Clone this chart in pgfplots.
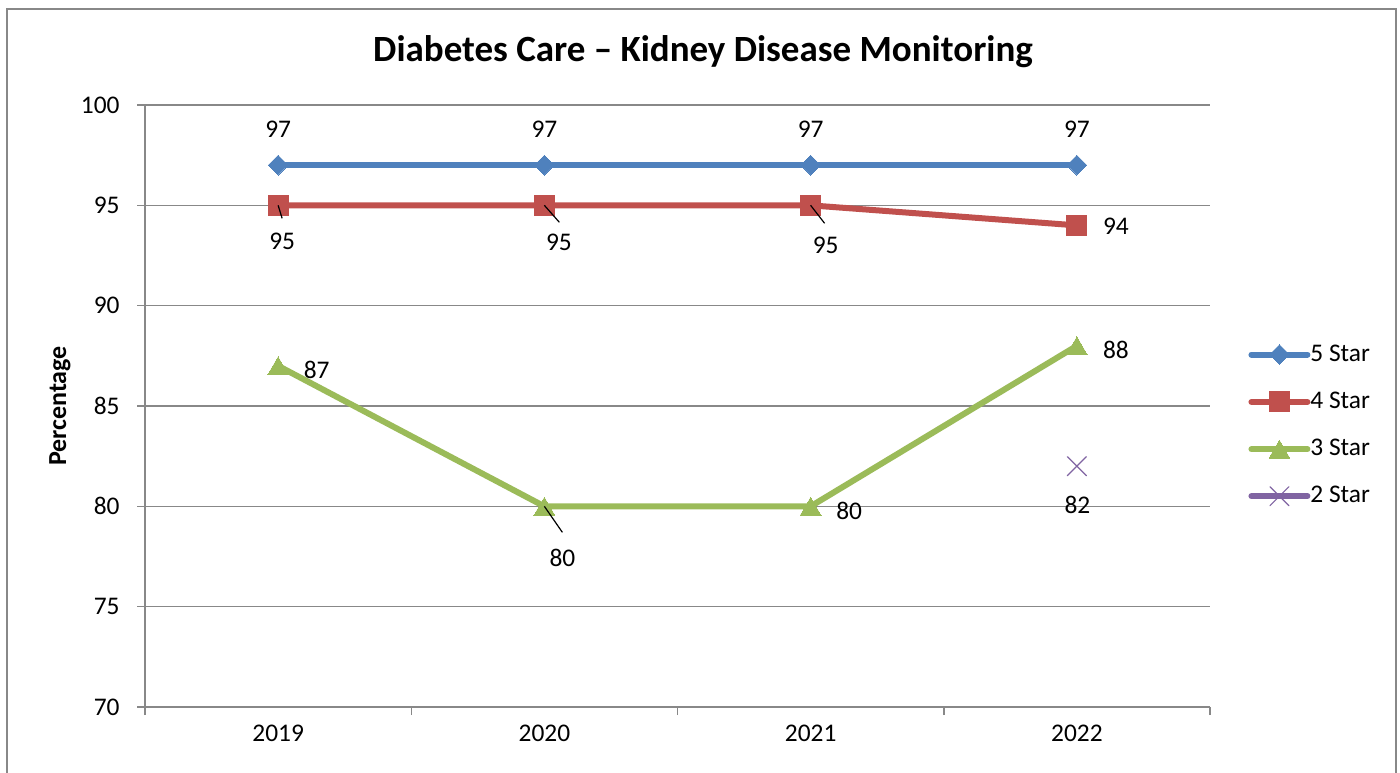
\documentclass[border=0pt]{standalone}
\usepackage{pgfplots}
\usepackage{pgfplotstable}
\pgfplotsset{compat=1.18}
\usepackage{fontspec}
\setmainfont{Carlito}
\definecolor{c5}{HTML}{4F81BD}
\definecolor{c4}{HTML}{C0504D}
\definecolor{c3}{HTML}{9BBB59}
\definecolor{c2}{HTML}{8064A2}
\definecolor{gridc}{HTML}{888888}

\pgfplotstableread{
x y dx dy
0 97 0 17.8
1 97 0 17.8
2 97 0 17.8
3 97 0 17.8
}\five
\pgfplotstableread{
x y dx dy
0 95 2 -18
1 95 7.25 -18.75
2 95 7.5 -20.25
3 94 19.5 -0.5
}\four
\pgfplotstableread{
x y dx dy
0 87 19.25 -0.5
1 80 9 -24.5
2 80 19.25 -0.7
3 88 19.5 -0.6
}\three
\pgfplotstableread{
x y dx dy
3 82 0.25 -19.25
}\two

\pgfplotsset{
  lbl/.style={
    nodes near coords={\pgfmathprintnumber{\pgfplotspointmeta}},
    point meta=y,
    visualization depends on={\thisrow{dx}\as\dx},
    visualization depends on={\thisrow{dy}\as\dy},
    every node near coord/.append style={font=\fontsize{12.7}{15}\selectfont, text=black,
      anchor=center, inner sep=0pt, xshift=\dx pt, yshift=\dy pt},
  },
}

\begin{document}
\begin{tikzpicture}[x=1pt,y=1pt]
\begin{axis}[
  set layers,
  at={(72.5pt,32.5pt)}, anchor=south west,
  scale only axis, width=532.5pt, height=301pt,
  xmin=-0.5, xmax=3.5, ymin=70, ymax=100,
  /pgf/number format/assume math mode=true,
  xtick={-0.5,0.5,1.5,2.5,3.5}, xticklabels={},
  extra x ticks={0,1,2,3},
  extra x tick labels={2019,2020,2021,2022},
  extra x tick style={major tick length=0pt},
  ytick={70,75,80,85,90,95,100},
  axis x line*=bottom, axis y line*=left,
  axis line style={gridc, line width=0.75pt},
  ymajorgrids, major grid style={gridc, line width=0.75pt},
  tick align=outside, major tick length=4pt,
  tick style={gridc, line width=0.75pt},
  tick label style={font=\fontsize{12.7}{15}\selectfont, inner sep=0pt},
  yticklabel style={anchor=east, xshift=-8.5pt},
  xticklabel style={anchor=center, yshift=-13pt},
  clip=false,
  legend style={at={(axis description cs:1.0357,0.468)}, anchor=west, draw=none, fill=none,
    inner sep=0pt, row sep=13.75pt, font=\fontsize{12.7}{15}\selectfont,
    nodes={inner sep=0pt},
    /tikz/every even column/.append style={column sep=2.5pt}},
  legend cell align=left,
  legend image code/.code={\draw[mark repeat=2, mark phase=2, #1] plot coordinates {(0pt,0pt) (14pt,0pt) (28pt,0pt)};},
]
\addplot[c5, line width=3pt, line cap=round, mark=square*, mark size=3.5pt,
  mark options={rotate=45, solid, fill=c5, draw=c5, line width=0pt}, lbl] table[x=x,y=y] {\five};
\addlegendentry{5 Star}
\addplot[c4, line width=3pt, line cap=round, mark=square*, mark size=5pt,
  mark options={solid, fill=c4, draw=c4, line width=0pt}, lbl] table[x=x,y=y] {\four};
\addlegendentry{4 Star}
\addplot[c3, line width=3pt, line cap=round, mark=triangle*, mark size=6pt,
  mark options={yshift=-1.5pt, solid, fill=c3, draw=c3, line width=0pt}, lbl] table[x=x,y=y] {\three};
\addlegendentry{3 Star}
\addplot[c2, line width=3pt, line cap=round, mark=x, mark size=6.7pt,
  mark options={solid, line width=0.6pt}, lbl] table[x=x,y=y] {\two};
\addlegendentry{2 Star}
\begin{pgfonlayer}{axis foreground}
\draw[black, line width=0.6pt] (axis cs:0,95) -- ++(2pt,-6.5pt);
\draw[black, line width=0.6pt] (axis cs:1,95) -- ++(7.5pt,-8.5pt);
\draw[black, line width=0.6pt] (axis cs:2,95) -- ++(7pt,-9pt);
\draw[black, line width=0.6pt] (axis cs:1,80) -- ++(9pt,-13pt);
\end{pgfonlayer}
\end{axis}
\node[font=\bfseries\fontsize{18.5}{22}\selectfont, anchor=base] at (351.5pt,355pt) {Diabetes Care – Kidney Disease Monitoring};
\node[font=\bfseries\fontsize{13}{15}\selectfont, rotate=90, anchor=base] at (33pt,183pt) {Percentage};
\draw[gridc, line width=0.75pt] (3.5pt,-20pt) -- (3.5pt,381.5pt) -- (698pt,381.5pt) -- (698pt,-20pt);
\pgfresetboundingbox
\useasboundingbox (0pt,0pt) rectangle (700pt,386pt);
\end{tikzpicture}
\end{document}
